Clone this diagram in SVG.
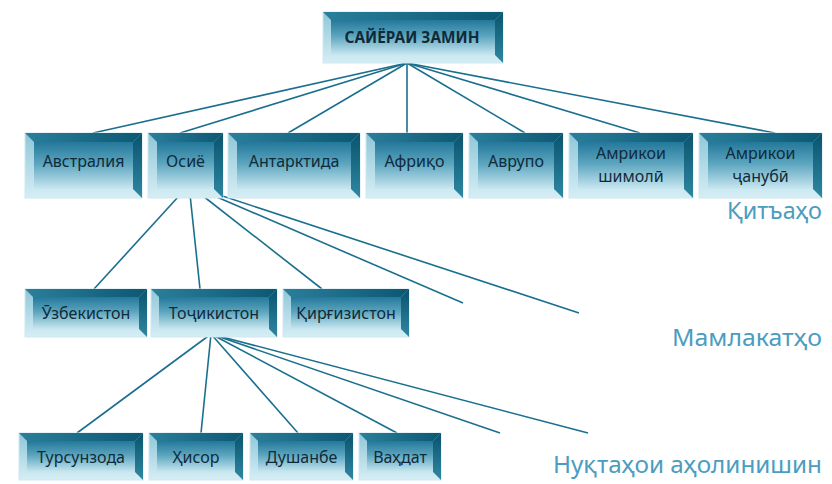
<svg xmlns="http://www.w3.org/2000/svg" width="832" height="484" viewBox="0 0 832 484">
<defs>
<linearGradient id="gOuter" x1="0" y1="0" x2="0" y2="1">
<stop offset="0" stop-color="#8ec6d8"/><stop offset="1" stop-color="#d6eef5"/>
</linearGradient>
<linearGradient id="gTop" x1="0" y1="0" x2="1" y2="0">
<stop offset="0" stop-color="#2a7f9b"/><stop offset="1" stop-color="#0c5873"/>
</linearGradient>
<linearGradient id="gRight" x1="0" y1="0" x2="0" y2="1">
<stop offset="0" stop-color="#0a536d"/><stop offset="1" stop-color="#2f87a2"/>
</linearGradient>
<linearGradient id="gFace" x1="0" y1="0" x2="0" y2="1">
<stop offset="0" stop-color="#24789a"/><stop offset="0.45" stop-color="#5aa4be"/><stop offset="1" stop-color="#c8e7f0"/>
</linearGradient>
</defs>
<style>
.frame{fill:url(#gOuter);stroke:#cfe8f0;stroke-width:1}
.top{fill:url(#gTop)}
.right{fill:url(#gRight)}
.face{fill:url(#gFace)}
.lbl{font-family:"Noto Sans","DejaVu Sans",sans-serif;font-size:16px;fill:#0f2b3a;text-anchor:middle}
.title{font-family:"Noto Sans","DejaVu Sans",sans-serif;font-size:23px;fill:#4b9dc0;text-anchor:end}
.conn line{stroke:#1b6f8e;stroke-width:1.6;fill:none}
</style>
<rect width="832" height="484" fill="#ffffff"/>

<g id="connectors" class="conn">
<line x1="407" y1="63" x2="93" y2="133"/>
<line x1="407" y1="63" x2="180" y2="133"/>
<line x1="407" y1="63" x2="288" y2="133"/>
<line x1="407" y1="63" x2="407" y2="133"/>
<line x1="407" y1="63" x2="525" y2="133"/>
<line x1="407" y1="63" x2="640" y2="133"/>
<line x1="407" y1="63" x2="775" y2="133"/>
<line x1="189" y1="185" x2="94" y2="289"/>
<line x1="189" y1="185" x2="200" y2="289"/>
<line x1="189" y1="185" x2="322" y2="289"/>
<line x1="189" y1="185" x2="463" y2="303"/>
<line x1="189" y1="185" x2="579" y2="313"/>
<line x1="211" y1="334" x2="77" y2="433"/>
<line x1="211" y1="334" x2="201" y2="433"/>
<line x1="211" y1="334" x2="298" y2="433"/>
<line x1="211" y1="334" x2="397" y2="433"/>
<line x1="211" y1="334" x2="500" y2="433"/>
<line x1="211" y1="334" x2="588" y2="433"/>
</g>

<g id="n-root">
<rect class="frame" x="323" y="12" width="180" height="51"/>
<polygon class="top" points="323,12 503,12 495,20 331,20"/>
<polygon class="right" points="503,12 503,63 495,55 495,20"/>
<rect class="face" x="331" y="20" width="164" height="35"/>
<text class="lbl" x="412" y="43" font-weight="bold" font-size="17" textLength="135" lengthAdjust="spacingAndGlyphs">САЙЁРАИ ЗАМИН</text>
</g>

<g id="n-australia">
<rect class="frame" x="25" y="133" width="117" height="65"/>
<polygon class="top" points="25,133 142,133 133,142 34,142"/>
<polygon class="right" points="142,133 142,198 133,189 133,142"/>
<rect class="face" x="34" y="142" width="99" height="47"/>
<text class="lbl" x="83.5" y="167">Австралия</text>
</g>

<g id="n-osie">
<rect class="frame" x="148" y="133" width="75" height="65"/>
<polygon class="top" points="148,133 223,133 214,142 157,142"/>
<polygon class="right" points="223,133 223,198 214,189 214,142"/>
<rect class="face" x="157" y="142" width="57" height="47"/>
<text class="lbl" x="185.5" y="167">Осиё</text>
</g>

<g id="n-antarktida">
<rect class="frame" x="228" y="133" width="132" height="65"/>
<polygon class="top" points="228,133 360,133 351,142 237,142"/>
<polygon class="right" points="360,133 360,198 351,189 351,142"/>
<rect class="face" x="237" y="142" width="114" height="47"/>
<text class="lbl" x="294" y="167">Антарктида</text>
</g>

<g id="n-afriqo">
<rect class="frame" x="366" y="133" width="97" height="65"/>
<polygon class="top" points="366,133 463,133 454,142 375,142"/>
<polygon class="right" points="463,133 463,198 454,189 454,142"/>
<rect class="face" x="375" y="142" width="79" height="47"/>
<text class="lbl" x="414.5" y="167">Африқо</text>
</g>

<g id="n-avrupo">
<rect class="frame" x="469" y="133" width="94" height="65"/>
<polygon class="top" points="469,133 563,133 554,142 478,142"/>
<polygon class="right" points="563,133 563,198 554,189 554,142"/>
<rect class="face" x="478" y="142" width="76" height="47"/>
<text class="lbl" x="516" y="167">Аврупо</text>
</g>

<g id="n-amriko-shimoli">
<rect class="frame" x="569" y="133" width="124" height="65"/>
<polygon class="top" points="569,133 693,133 684,142 578,142"/>
<polygon class="right" points="693,133 693,198 684,189 684,142"/>
<rect class="face" x="578" y="142" width="106" height="47"/>
<text class="lbl" x="631" y="159">Амрикои</text>
<text class="lbl" x="631" y="182">шимолӣ</text>
</g>

<g id="n-amriko-janubi">
<rect class="frame" x="699" y="133" width="123" height="65"/>
<polygon class="top" points="699,133 822,133 813,142 708,142"/>
<polygon class="right" points="822,133 822,198 813,189 813,142"/>
<rect class="face" x="708" y="142" width="105" height="47"/>
<text class="lbl" x="760.5" y="159">Амрикои</text>
<text class="lbl" x="760.5" y="182">ҷанубӣ</text>
</g>

<g id="n-uzbekiston">
<rect class="frame" x="25" y="289" width="122" height="48"/>
<polygon class="top" points="25,289 147,289 139,297 33,297"/>
<polygon class="right" points="147,289 147,337 139,329 139,297"/>
<rect class="face" x="33" y="297" width="106" height="32"/>
<text class="lbl" x="86" y="319">Ӯзбекистон</text>
</g>

<g id="n-tojikiston">
<rect class="frame" x="151" y="289" width="126" height="48"/>
<polygon class="top" points="151,289 277,289 269,297 159,297"/>
<polygon class="right" points="277,289 277,337 269,329 269,297"/>
<rect class="face" x="159" y="297" width="110" height="32"/>
<text class="lbl" x="214" y="319">Тоҷикистон</text>
</g>

<g id="n-qirgiziston">
<rect class="frame" x="283" y="289" width="126" height="48"/>
<polygon class="top" points="283,289 409,289 401,297 291,297"/>
<polygon class="right" points="409,289 409,337 401,329 401,297"/>
<rect class="face" x="291" y="297" width="110" height="32"/>
<text class="lbl" x="346" y="319">Қирғизистон</text>
</g>

<g id="n-tursunzoda">
<rect class="frame" x="19" y="433" width="124" height="47"/>
<polygon class="top" points="19,433 143,433 135,441 27,441"/>
<polygon class="right" points="143,433 143,480 135,472 135,441"/>
<rect class="face" x="27" y="441" width="108" height="31"/>
<text class="lbl" x="81" y="463">Турсунзода</text>
</g>

<g id="n-hisor">
<rect class="frame" x="149" y="433" width="94" height="47"/>
<polygon class="top" points="149,433 243,433 235,441 157,441"/>
<polygon class="right" points="243,433 243,480 235,472 235,441"/>
<rect class="face" x="157" y="441" width="78" height="31"/>
<text class="lbl" x="196" y="463">Ҳисор</text>
</g>

<g id="n-dushanbe">
<rect class="frame" x="250" y="433" width="103" height="47"/>
<polygon class="top" points="250,433 353,433 345,441 258,441"/>
<polygon class="right" points="353,433 353,480 345,472 345,441"/>
<rect class="face" x="258" y="441" width="87" height="31"/>
<text class="lbl" x="301.5" y="463">Душанбе</text>
</g>

<g id="n-vahdat">
<rect class="frame" x="359" y="433" width="82" height="47"/>
<polygon class="top" points="359,433 441,433 433,441 367,441"/>
<polygon class="right" points="441,433 441,480 433,472 433,441"/>
<rect class="face" x="367" y="441" width="66" height="31"/>
<text class="lbl" x="400" y="463">Ваҳдат</text>
</g>

<g id="level-labels">
<text class="title" x="822" y="219" textLength="95" lengthAdjust="spacingAndGlyphs">Қитъаҳо</text>
<text class="title" x="822" y="346" textLength="150" lengthAdjust="spacingAndGlyphs">Мамлакатҳо</text>
<text class="title" x="822" y="473" textLength="269" lengthAdjust="spacingAndGlyphs">Нуқтаҳои аҳолинишин</text>
</g>
</svg>
